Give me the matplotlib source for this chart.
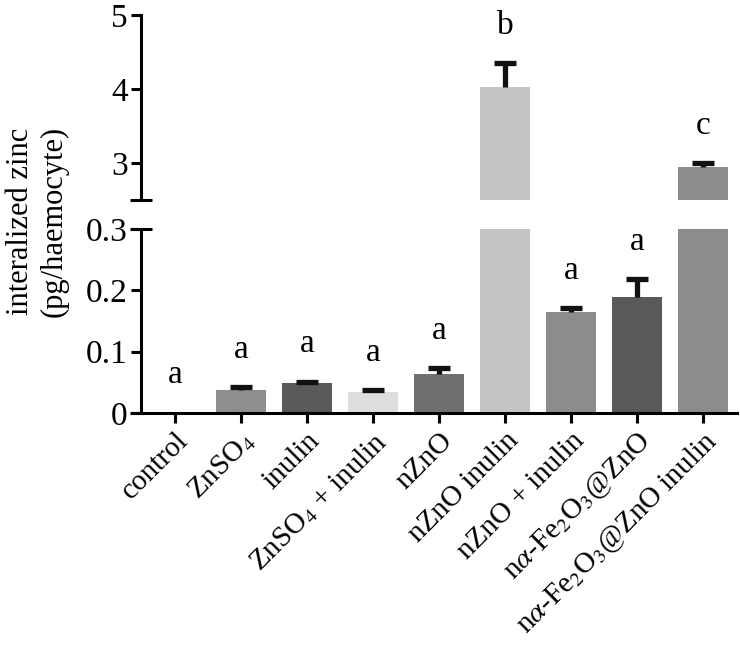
import matplotlib
matplotlib.use("Agg")
import matplotlib.pyplot as plt
import numpy as np

plt.rcParams['font.family'] = ['Liberation Serif', 'DejaVu Serif']
plt.rcParams['mathtext.fontset'] = 'stix'

categories = ["control", "ZnSO$_4$", "inulin", "ZnSO$_4$ + inulin", "nZnO",
              "nZnO inulin", "nZnO + inulin", "n$\\alpha$-Fe$_2$O$_3$@ZnO",
              "n$\\alpha$-Fe$_2$O$_3$@ZnO inulin"]
values = [0.001, 0.0375, 0.049, 0.035, 0.064, 4.03, 0.165, 0.189, 2.95]
errors = [0.0, 0.0045, 0.002, 0.002, 0.009, 0.32, 0.006, 0.029, 0.05]
letters = ["a", "a", "a", "a", "a", "b", "a", "a", "c"]
colors = ["#ffffff", "#8e8e8e", "#5a5a5a", "#dedede", "#707070",
          "#c4c4c4", "#8c8c8c", "#595959", "#8c8c8c"]

fig = plt.figure(figsize=(7.4, 6.53), dpi=100)
W, H = 740, 653
left = 141 / W
right = 737 / W
ax_top = fig.add_axes([left, 1 - 200 / H, right - left, (200 - 15) / H])
ax_bot = fig.add_axes([left, 1 - 413 / H, right - left, (413 - 229) / H])

x = np.arange(len(categories))
lw = 2.2
ecol = '#111111'
for ax, (lo, hi) in [(ax_top, (2.5, 5.0)), (ax_bot, (0.0, 0.3))]:
    ax.bar(x, values, width=0.75, color=colors, edgecolor='none', zorder=2)
    for xi, v, e in zip(x, values, errors):
        if e > 0 and lo <= v <= hi:
            ax.vlines(xi, v, v + e, colors=ecol, lw=3.8, zorder=3)
            ax.plot([xi], [v + e], marker='_', ms=16.5, mew=3.8,
                    color=ecol, zorder=3)
    ax.set_ylim(lo, hi)
    ax.set_xlim(-0.515, 8.515)
    for s in ['top', 'right']:
        ax.spines[s].set_visible(False)
    ax.spines['left'].set_linewidth(lw)
    ax.spines['bottom'].set_linewidth(lw)
    ax.tick_params(axis='y', direction='out', length=7.5, width=lw,
                   labelsize=24, pad=2)
    ax.tick_params(axis='x', direction='out', length=7.5, width=lw,
                   labelsize=21, pad=3)
    ax.patch.set_alpha(0)

ax_top.spines['bottom'].set_visible(False)
ax_top.set_xticks([])
ax_top.set_yticks([3, 4, 5])
ax_top.set_yticklabels(["3", "4", "5"])
ax_bot.set_yticks([0, 0.1, 0.2, 0.3])
ax_bot.set_yticklabels(["0", "0.1", "0.2", "0.3"])
ax_bot.set_xticks(x)
ax_bot.set_xticklabels(categories, rotation=45, ha='right', va='top',
                       rotation_mode='anchor')

# break marks and extended baseline
dx = 11 / (737 - 141)
ax_top.plot([-dx, dx], [0, 0], transform=ax_top.transAxes, color='black',
            lw=lw, clip_on=False, solid_capstyle='butt')
ax_bot.plot([-dx, dx], [1, 1], transform=ax_bot.transAxes, color='black',
            lw=lw, clip_on=False, solid_capstyle='butt')
ax_bot.plot([-dx, 0], [0, 0], transform=ax_bot.transAxes, color='black',
            lw=lw, clip_on=False, solid_capstyle='butt')

# significance letters
for xi, v, e, l in zip(x, values, errors, letters):
    top = v + e
    ax = ax_top if v > 0.3 else ax_bot
    ax.annotate(l, (xi, top), xytext=(0, 27), textcoords='offset points',
                ha='center', va='center', fontsize=24, annotation_clip=False)

fig.text(37 / W, 1 - 221 / H, "interalized zinc\n(pg/haemocyte)",
         rotation=90, ha='center', va='center', fontsize=22,
         multialignment='center', linespacing=1.2)

fig.savefig("out.png", dpi=100)
